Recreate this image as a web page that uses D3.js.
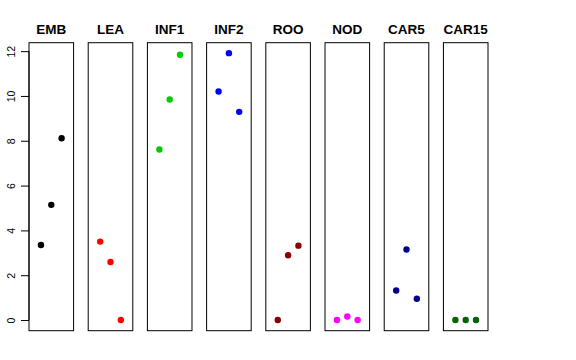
<!DOCTYPE html>
<html><head><meta charset="utf-8">
<script src="https://cdn.jsdelivr.net/npm/d3@7"></script>
<style>body{margin:0;background:#fff}svg{display:block}</style>
</head><body>
<script>
const categories = ["EMB","LEA","INF1","INF2","ROO","NOD","CAR5","CAR15"];
const colors = ["#000000","#FF0000","#00CD00","#0000FF","#8B0000","#FF00FF","#00008B","#006400"];
const values = [
  [3.35, 5.14, 8.11],
  [3.50, 2.59, 0.00],
  [7.61, 9.84, 11.84],
  [10.20, 11.91, 9.29],
  [0.00, 2.89, 3.32],
  [0.00, 0.16, 0.00],
  [1.32, 3.15, 0.95],
  [0.00, 0.00, 0.00]
];
const yTicks = [0,2,4,6,8,10,12];

(function(){
const W=576,H=360;
const svg=d3.select("body").append("svg").attr("width",W).attr("height",H);
const pTop=42.7, pBottom=330.7;
const ymax=11.9, pad=ymax*0.04;
const y=d3.scaleLinear().domain([-pad, ymax+pad]).range([pBottom, pTop]);
const band=d3.scaleBand().domain(categories).range([29,488]).paddingInner(0.247).paddingOuter(0);
const x=d3.scaleLinear().domain([-0.16,4.16]).range([0,band.bandwidth()]);

categories.forEach((c,i)=>{
  const g=svg.append("g").attr("transform",`translate(${band(c)},0)`);
  g.append("rect").attr("x",0).attr("y",pTop).attr("width",band.bandwidth()).attr("height",pBottom-pTop)
    .attr("fill","none").attr("stroke","#000").attr("stroke-width",1);
  g.selectAll("circle").data(values[i]).enter().append("circle")
    .attr("cx",(d,j)=>x(j+1)).attr("cy",d=>y(d)).attr("r",3.2).attr("fill",colors[i]);
  g.append("text").attr("x",band.bandwidth()/2).attr("y",33.5).attr("text-anchor","middle")
    .attr("font-family","Liberation Sans, Arial, sans-serif").attr("font-weight","bold").attr("font-size",13.5)
    .text(c);
});

const axis=d3.axisLeft(y).tickValues(yTicks).tickSize(8).tickPadding(4).tickFormat(d3.format("d"));
const ag=svg.append("g").attr("transform",`translate(${band(categories[0])},0)`).call(axis);
ag.select(".domain").attr("d",`M0,${y(0)}V${y(12)}`).attr("stroke","#000");
ag.selectAll(".tick line").attr("stroke","#000");
ag.selectAll(".tick text").attr("font-family","Liberation Sans, Arial, sans-serif").attr("font-size",10.5)
  .attr("fill","#000").attr("x",null).attr("dy",null).attr("text-anchor","middle")
  .attr("transform","translate(-14,0) rotate(-90)");
})();
</script>
</body></html>
